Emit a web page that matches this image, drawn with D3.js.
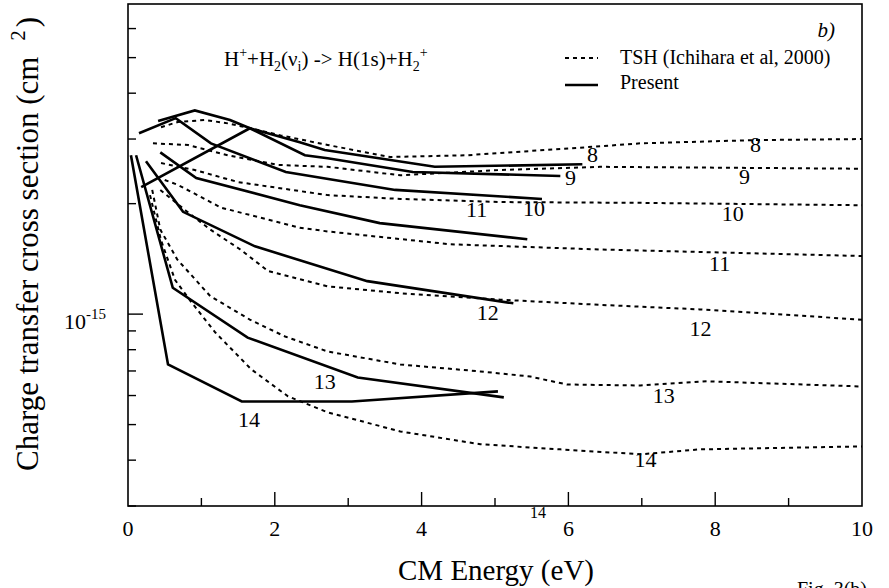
<!DOCTYPE html>
<html>
<head>
<meta charset="utf-8">
<script src="https://cdn.jsdelivr.net/npm/d3@7"></script>
<style>
  body { margin: 0; background: #fff; }
  svg { display: block; font-family: "Liberation Serif", "DejaVu Serif", serif; }
</style>
</head>
<body>
<div id="chart"></div>
<script>
// vibrational levels
const levels = [8, 9, 10, 11, 12, 13, 14];

// Present calculation: [CM energy (eV), cross section (cm^2)]
const present8 = [[0.18, 2.22e-15], [1.66, 3.21e-15], [2.34, 2.94e-15], [2.68, 2.80e-15], [4.18, 2.52e-15], [6.19, 2.56e-15]];
const present9 = [[0.41, 3.36e-15], [0.91, 3.59e-15], [1.39, 3.38e-15], [1.66, 3.21e-15], [2.41, 2.71e-15], [2.72, 2.66e-15], [3.88, 2.44e-15], [5.89, 2.38e-15]];
const present10 = [[0.15, 3.11e-15], [0.65, 3.42e-15], [1.13, 2.92e-15], [2.15, 2.44e-15], [3.64, 2.18e-15], [5.64, 2.06e-15]];
const present11 = [[0.44, 2.76e-15], [0.93, 2.35e-15], [2.34, 1.98e-15], [3.43, 1.77e-15], [5.44, 1.60e-15]];
const present12 = [[0.245, 2.61e-15], [0.75, 1.90e-15], [1.73, 1.53e-15], [3.26, 1.23e-15], [5.25, 1.07e-15]];
const present13 = [[0.11, 2.71e-15], [0.61, 1.18e-15], [1.63, 0.863e-15], [3.13, 0.672e-15], [5.12, 0.593e-15]];
const present14 = [[0.04, 2.71e-15], [0.545, 0.729e-15], [1.55, 0.578e-15], [3.05, 0.578e-15], [5.04, 0.616e-15]];

// TSH (Ichihara et al, 2000)
const tsh8 = [[0.45, 3.23e-15], [0.68, 3.34e-15], [1.05, 3.38e-15], [1.36, 3.31e-15], [1.67, 3.21e-15], [2.08, 3.07e-15], [2.72, 2.89e-15], [3.57, 2.68e-15], [4.62, 2.71e-15], [6.25, 2.85e-15], [6.98, 2.92e-15], [8.54, 2.98e-15], [10, 3.00e-15]];
const tsh9 = [[0.34, 2.92e-15], [0.82, 2.89e-15], [1.36, 2.71e-15], [2.04, 2.55e-15], [2.72, 2.52e-15], [3.71, 2.39e-15], [5.07, 2.47e-15], [6.43, 2.52e-15], [10, 2.49e-15]];
const tsh10 = [[0.45, 2.58e-15], [0.91, 2.47e-15], [1.50, 2.29e-15], [2.72, 2.11e-15], [3.71, 2.06e-15], [5.07, 2.02e-15], [6.98, 2.01e-15], [10, 1.98e-15]];
const tsh11 = [[0.50, 2.32e-15], [0.68, 2.25e-15], [1.27, 1.95e-15], [2.34, 1.72e-15], [2.72, 1.68e-15], [4.39, 1.55e-15], [6.43, 1.50e-15], [10, 1.44e-15]];
const tsh12 = [[0.44, 2.18e-15], [0.78, 1.92e-15], [1.12, 1.70e-15], [1.53, 1.50e-15], [1.91, 1.31e-15], [2.72, 1.19e-15], [3.71, 1.14e-15], [5.07, 1.095e-15], [6.43, 1.06e-15], [7.79, 1.03e-15], [10, 0.966e-15]];
const tsh13 = [[0.33, 2.18e-15], [0.44, 1.70e-15], [0.67, 1.41e-15], [1.12, 1.12e-15], [1.66, 0.966e-15], [2.14, 0.869e-15], [2.72, 0.791e-15], [3.71, 0.729e-15], [4.80, 0.698e-15], [5.48, 0.676e-15], [5.98, 0.643e-15], [6.98, 0.639e-15], [7.89, 0.656e-15], [10, 0.635e-15]];
const tsh14 = [[0.30, 2.11e-15], [0.45, 1.59e-15], [0.64, 1.24e-15], [0.86, 1.08e-15], [1.19, 0.891e-15], [1.68, 0.707e-15], [2.18, 0.597e-15], [2.72, 0.540e-15], [3.71, 0.479e-15], [4.80, 0.442e-15], [5.89, 0.428e-15], [6.98, 0.415e-15], [7.79, 0.428e-15], [10, 0.436e-15]];

const presentCurves = [present8, present9, present10, present11, present12, present13, present14];
const tshCurves = [tsh8, tsh9, tsh10, tsh11, tsh12, tsh13, tsh14];

// axis ticks
const xMajor = [0, 2, 4, 6, 8, 10];
const xMinor = [1, 3, 5, 7, 9];
const yMinor = [3e-16, 4e-16, 5e-16, 6e-16, 7e-16, 8e-16, 9e-16, 2e-15, 3e-15, 4e-15, 5e-15, 6e-15];

const width = 889;
const height = 588;
const plotLeft = 128, plotRight = 862, plotTop = 4, plotBottom = 506;

const svg = d3.select('#chart')
    .append('svg')
    .attr('width', width)
    .attr('height', height);

const x = d3.scaleLinear().domain([0, 10]).range([plotLeft, plotRight]);
const y = d3.scaleLog().domain([3e-16, 7e-15]).range([plotBottom, plotTop]);

const line = d3.line()
    .x(d => x(d[0]))
    .y(d => y(d[1]));

// frame
svg.append('rect')
    .attr('x', plotLeft)
    .attr('y', plotTop)
    .attr('width', plotRight - plotLeft)
    .attr('height', plotBottom - plotTop)
    .attr('fill', 'none')
    .attr('stroke', '#000')
    .attr('stroke-width', 1.6);

// x ticks (inside)
svg.selectAll('.xmaj')
    .data(xMajor.slice(1, -1))
    .enter().append('line')
    .attr('x1', d => x(d)).attr('x2', d => x(d))
    .attr('y1', plotBottom).attr('y2', plotBottom - 14)
    .attr('stroke', '#000').attr('stroke-width', 1.4);

svg.selectAll('.xmin')
    .data(xMinor)
    .enter().append('line')
    .attr('x1', d => x(d)).attr('x2', d => x(d))
    .attr('y1', plotBottom).attr('y2', plotBottom - 8)
    .attr('stroke', '#000').attr('stroke-width', 1.4);

svg.selectAll('.xlab')
    .data(xMajor)
    .enter().append('text')
    .attr('x', d => x(d))
    .attr('y', 536)
    .attr('text-anchor', 'middle')
    .style('font-size', '22px')
    .text(d => d);

// y ticks (log)
svg.append('line')
    .attr('x1', plotLeft).attr('x2', plotLeft + 15)
    .attr('y1', y(1e-15)).attr('y2', y(1e-15))
    .attr('stroke', '#000').attr('stroke-width', 1.4);

svg.selectAll('.ymin')
    .data(yMinor)
    .enter().append('line')
    .attr('x1', plotLeft).attr('x2', plotLeft + 8)
    .attr('y1', d => y(d)).attr('y2', d => y(d))
    .attr('stroke', '#000').attr('stroke-width', 1.4);

const ylab = svg.append('text')
    .attr('x', 64)
    .attr('y', y(1e-15) + 15)
    .style('font-size', '22px');
ylab.append('tspan').text('10');
ylab.append('tspan').attr('dy', -10).style('font-size', '15px').text('-15');

// TSH curves (dotted)
svg.selectAll('.tsh')
    .data(tshCurves)
    .enter().append('path')
    .attr('d', line)
    .attr('fill', 'none')
    .attr('stroke', '#000')
    .attr('stroke-width', 2)
    .attr('stroke-dasharray', '4,4');

// Present curves (solid)
svg.selectAll('.present')
    .data(presentCurves)
    .enter().append('path')
    .attr('d', line)
    .attr('fill', 'none')
    .attr('stroke', '#000')
    .attr('stroke-width', 2.6);

// curve labels: present (near ends) and TSH (right side)
const presentLabels = [[6.33, 2.72e-15], [6.03, 2.35e-15], [5.53, 1.94e-15], [4.75, 1.92e-15], [4.9, 1.01e-15], [2.68, 0.655e-15], [1.65, 0.515e-15]];
const tshLabels = [[8.55, 2.89e-15], [8.4, 2.37e-15], [8.24, 1.88e-15], [8.06, 1.37e-15], [7.8, 0.91e-15], [7.3, 0.60e-15], [7.05, 0.40e-15]];

svg.selectAll('.plab')
    .data(presentLabels)
    .enter().append('text')
    .attr('x', d => x(d[0]))
    .attr('y', d => y(d[1]) + 7)
    .attr('text-anchor', 'middle')
    .style('font-size', '22px')
    .text((d, i) => levels[i]);

svg.selectAll('.tlab')
    .data(tshLabels)
    .enter().append('text')
    .attr('x', d => x(d[0]))
    .attr('y', d => y(d[1]) + 7)
    .attr('text-anchor', 'middle')
    .style('font-size', '22px')
    .text((d, i) => levels[i]);

// stray small label near the x axis
svg.append('text')
    .attr('x', 538)
    .attr('y', 518)
    .attr('text-anchor', 'middle')
    .style('font-size', '16px')
    .text('14');

// reaction annotation
const react = svg.append('text')
    .attr('x', 224)
    .attr('y', 66)
    .style('font-size', '21px');
react.append('tspan').text('H');
react.append('tspan').attr('dy', -9).style('font-size', '14px').text('+');
react.append('tspan').attr('dy', 9).text('+H');
react.append('tspan').attr('dy', 5).style('font-size', '14px').text('2');
react.append('tspan').attr('dy', -5).text('(ν');
react.append('tspan').attr('dy', 5).style('font-size', '14px').text('i');
react.append('tspan').attr('dy', -5).text(') -> H(1s)+H');
react.append('tspan').attr('dy', 5).style('font-size', '14px').text('2');
react.append('tspan').attr('dy', -14).style('font-size', '14px').text('+');

// panel tag
svg.append('text')
    .attr('x', 835)
    .attr('y', 37)
    .attr('text-anchor', 'end')
    .style('font-size', '21px')
    .style('font-style', 'italic')
    .text('b)');

// legend
svg.append('line')
    .attr('x1', 565).attr('x2', 598)
    .attr('y1', 58).attr('y2', 58)
    .attr('stroke', '#000').attr('stroke-width', 2)
    .attr('stroke-dasharray', '4,4');
svg.append('text')
    .attr('x', 620).attr('y', 64)
    .style('font-size', '20px')
    .text('TSH (Ichihara et al, 2000)');
svg.append('line')
    .attr('x1', 565).attr('x2', 598)
    .attr('y1', 85).attr('y2', 85)
    .attr('stroke', '#000').attr('stroke-width', 2.6);
svg.append('text')
    .attr('x', 620).attr('y', 89)
    .style('font-size', '20px')
    .text('Present');

// axis titles
svg.append('text')
    .attr('x', 496)
    .attr('y', 580)
    .attr('text-anchor', 'middle')
    .style('font-size', '29px')
    .text('CM Energy (eV)');

const ytitle = svg.append('text')
    .attr('transform', 'translate(38, 471) rotate(-90)')
    .style('font-size', '31px');
ytitle.append('tspan').text('Charge transfer cross section (cm');
ytitle.append('tspan').attr('dx', 16).attr('dy', -13).style('font-size', '21px').text('2');
ytitle.append('tspan').attr('dx', 3).attr('dy', 13).text(')');

// figure caption, cut off at the bottom edge as in the source
svg.append('text')
    .attr('x', 797)
    .attr('y', 596)
    .style('font-size', '20px')
    .text('Fig. 3(b)');
</script>
</body>
</html>
